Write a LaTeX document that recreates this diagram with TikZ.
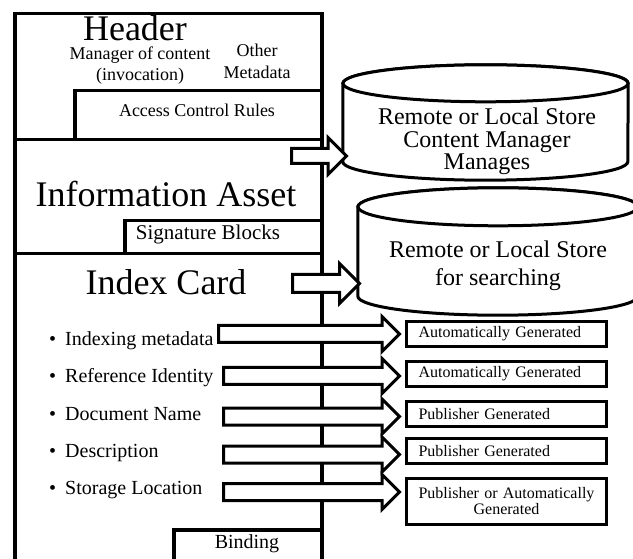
\documentclass[tikz,border=0pt]{standalone}
\usepackage{fontspec}
\setmainfont{Liberation Serif}
\usetikzlibrary{shapes.geometric,shapes.arrows,positioning}

\begin{document}
\begin{tikzpicture}[
      x=1pt, y=-1pt,
      part/.style={rectangle, draw, line width=3.5pt, anchor=north west, inner sep=0pt},
      big/.style={font=\fontsize{36}{40}\selectfont, anchor=base, inner sep=1pt},
      small/.style={font=\fontsize{18}{21}\selectfont, align=center, anchor=base, inner sep=1pt},
      item/.style={font=\fontsize{20}{24}\selectfont, anchor=base west, inner sep=1pt},
      store/.style={rectangle, inner sep=0pt},
      storeline/.style={draw, line width=3pt, fill=white},
      storetxt/.style={font=\fontsize{24}{22.5}\selectfont, align=center, anchor=base, inner sep=1pt},
      gen/.style={rectangle, draw, line width=3pt, minimum width=200pt, minimum height=25pt,
                  anchor=north west, font=\fontsize{16}{16}\selectfont, text width=176pt,
                  inner xsep=12pt, inner ysep=0pt, align=left},
      blockarr/.style={single arrow, draw, line width=3pt, fill=white, inner xsep=0pt, anchor=tail}
    ]
      \useasboundingbox (0,0) rectangle (633,559);
      \clip (0,0) rectangle (633,559);
      \node[part, minimum width=307pt, minimum height=126pt] (header) at (13,12) {};
      \node[part, minimum width=307pt, minimum height=114pt] (asset) at (13,138) {};
      \node[part, minimum width=307pt, minimum height=330pt] (card) at (13,252) {};
      \node[part, minimum width=247pt, minimum height=49pt] (access) at (73,89) {};
      \node[part, minimum width=197pt, minimum height=33pt] (sign) at (123,219) {};
      \node[part, minimum width=148pt, minimum height=50pt] (binding) at (172,528) {};

      \node[big, text depth=0pt, inner sep=0pt] (headtxt) at (135,41) {Header};
      \node[small] (mgrtxt) at (140,81) {Manager of content\\(invocation)};
      \node[small, font=\fontsize{18}{22}\selectfont] (othertxt) at (257,79) {Other\\Metadata};
      \node[small] (accesstxt) at (197,117) {Access Control Rules};
      \node[big] (assettxt) at (166,207) {Information Asset};
      \node[font=\fontsize{21}{24}\selectfont, anchor=base, inner sep=1pt] (signtxt) at (208,240) {Signature Blocks};
      \node[big] (cardtxt) at (166,295) {Index Card};
      \node[font=\fontsize{20}{24}\selectfont, anchor=base, inner sep=1pt] (bindtxt) at (247,548) {Binding};

      \node[item] (idx)  at (48,346)   {\textbullet\hspace{9pt}Indexing metadata};
      \node[item] (ref)  at (48,383)   {\textbullet\hspace{9pt}Reference Identity};
      \node[item] (name) at (48,420.5) {\textbullet\hspace{9pt}Document Name};
      \node[item] (desc) at (48,457)   {\textbullet\hspace{9pt}Description};
      \node[item] (loc)  at (48,494)   {\textbullet\hspace{9pt}Storage Location};

      \node[store, minimum width=285pt, minimum height=78pt] (store1) at (485.5,122.5) {};
      \draw[storeline] (store1.north west) -- (store1.south west)
        arc[start angle=180, end angle=360, x radius=142.5pt, y radius=18.5pt]
        -- (store1.north east)
        arc[start angle=0, end angle=180, x radius=142.5pt, y radius=18.5pt] -- cycle;
      \draw[storeline] (store1.north) ellipse[x radius=142.5pt, y radius=18.5pt];
      \node[store, minimum width=280pt, minimum height=89pt] (store2) at (498,251.5) {};
      \draw[storeline] (store2.north west) -- (store2.south west)
        arc[start angle=180, end angle=360, x radius=140pt, y radius=19pt]
        -- (store2.north east)
        arc[start angle=0, end angle=180, x radius=140pt, y radius=19pt] -- cycle;
      \draw[storeline] (store2.north) ellipse[x radius=140pt, y radius=19pt];
      \node[storetxt] (store1txt) at (487,170) {Remote or Local Store\\Content Manager\\Manages};
      \node[storetxt, font=\fontsize{24}{28}\selectfont] (store2txt) at (498,286) {Remote or Local Store\\for searching};

      \node[gen] (genidx)  at (405,320) {Automatically Generated};
      \node[gen] (genref)  at (405,360) {Automatically Generated};
      \node[gen] (genname) at (405,400) {Publisher Generated};
      \node[gen] (gendesc) at (405,437) {Publisher Generated};
      \node[gen, minimum height=46pt, text width=186pt, inner xsep=7pt, align=center] (genloc) at (405,477) {Publisher or Automatically\\Generated};

      \node[blockarr, minimum height=55pt, inner ysep=6pt, single arrow head extend=11pt] (tostore1) at (290,156) {};
      \node[blockarr, minimum height=67pt, inner ysep=7.5pt, single arrow head extend=11pt] (tostore2) at (291,283.5) {};
      \node[blockarr, minimum height=181pt, inner ysep=7pt, single arrow head extend=9pt] (toidx) at (217,334) {};
      \node[blockarr, minimum height=176pt, inner ysep=7pt, single arrow head extend=9pt] (toref) at (222,376) {};
      \node[blockarr, minimum height=176pt, inner ysep=7pt, single arrow head extend=9pt] (toname) at (222,416.5) {};
      \node[blockarr, minimum height=176pt, inner ysep=7pt, single arrow head extend=9pt] (todesc) at (222,454.5) {};
      \node[blockarr, minimum height=176pt, inner ysep=7pt, single arrow head extend=9pt] (toloc) at (222,492) {};
    \end{tikzpicture}
\end{document}
